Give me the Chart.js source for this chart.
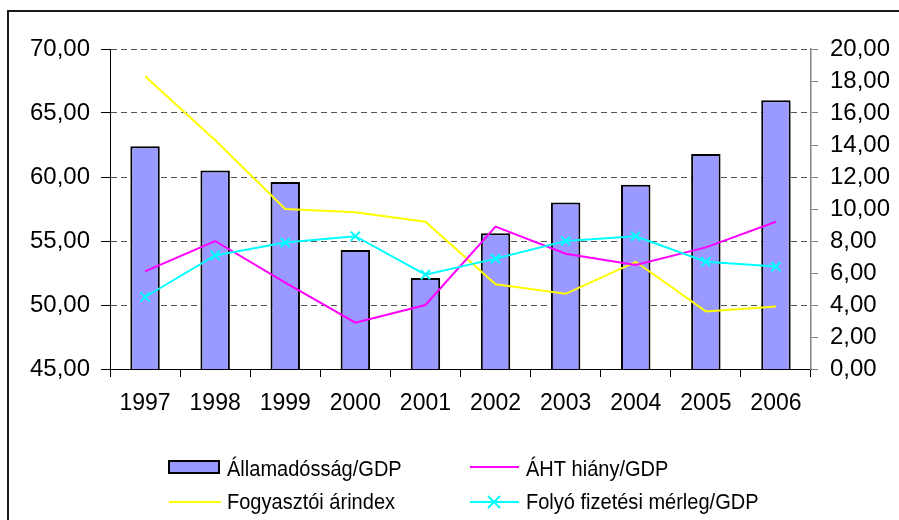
<!DOCTYPE html>
<html>
<head>
<meta charset="utf-8">
<script src="https://cdn.jsdelivr.net/npm/chart.js@4/dist/chart.umd.min.js"></script>
<style>
  html, body { margin: 0; padding: 0; background: #fff; }
  #wrap { position: relative; width: 899px; height: 520px; }
</style>
</head>
<body>
<div id="wrap"><canvas id="c" width="899" height="520"></canvas></div>
<script>
const years = ['1997', '1998', '1999', '2000', '2001', '2002', '2003', '2004', '2005', '2006'];
const debtGDP = [62.4, 60.5, 59.6, 54.3, 52.1, 55.6, 58.0, 59.4, 61.8, 66.0];
const deficitGDP = [6.1, 8.0, 5.4, 2.9, 4.0, 8.9, 7.2, 6.5, 7.6, 9.2];
const cpiIndex = [18.3, 14.3, 10.0, 9.8, 9.2, 5.3, 4.7, 6.7, 3.6, 3.9];
const currentAccountGDP = [4.5, 7.1, 7.9, 8.3, 5.9, 6.9, 8.0, 8.3, 6.7, 6.4];
const seriesNames = ['Államadósság/GDP', 'ÁHT hiány/GDP', 'Fogyasztói árindex', 'Folyó fizetési mérleg/GDP'];
const leftTicks = { min: 45, max: 70, step: 5 };
const rightTicks = { min: 0, max: 20, step: 2 };

const FONT = "'Liberation Sans', Arial, sans-serif";
const fmt = v => Number(v).toFixed(2).replace('.', ',');

const frameAndLegend = {
  id: 'frameAndLegend',
  beforeDraw(chart) {
    const ctx = chart.ctx;
    ctx.save();
    ctx.fillStyle = '#fff';
    ctx.fillRect(0, 0, chart.width, chart.height);
    ctx.strokeStyle = '#1a1a1a';
    ctx.lineWidth = 2;
    ctx.beginPath();
    ctx.moveTo(8, chart.height + 5);
    ctx.lineTo(8, 11);
    ctx.lineTo(chart.width + 5, 11);
    ctx.stroke();
    ctx.restore();
  },
  afterDraw(chart) {
    const ctx = chart.ctx;
    const ds = chart.data.datasets;
    ctx.save();
    ctx.fillStyle = ds[0].backgroundColor;
    ctx.fillRect(169, 461, 50, 12);
    ctx.strokeStyle = '#000';
    ctx.lineWidth = 2;
    ctx.strokeRect(169, 461, 50, 12);
    const line = (x1, x2, y, color) => {
      ctx.strokeStyle = color; ctx.lineWidth = 2;
      ctx.beginPath(); ctx.moveTo(x1, y); ctx.lineTo(x2, y); ctx.stroke();
    };
    line(470, 519, 467, ds[1].borderColor);
    line(169, 221, 502, ds[2].borderColor);
    line(470, 519, 502, ds[3].borderColor);
    ctx.strokeStyle = ds[3].borderColor; ctx.lineWidth = 2;
    const cx = 494, cy = 502, r = 6;
    ctx.beginPath();
    ctx.moveTo(cx - r, cy - r); ctx.lineTo(cx + r, cy + r);
    ctx.moveTo(cx + r, cy - r); ctx.lineTo(cx - r, cy + r);
    ctx.stroke();
    ctx.fillStyle = '#000';
    ctx.font = '22px ' + FONT;
    ctx.textBaseline = 'middle';
    ctx.textAlign = 'left';
    const txt = (s, x, y) => {
      const w = ctx.measureText(s).width;
      ctx.fillText(s, x, y, w * 0.91);
    };
    txt(ds[0].label, 227, 470);
    txt(ds[1].label, 526, 470);
    txt(ds[2].label, 227, 503);
    txt(ds[3].label, 526, 503);
    ctx.restore();
  }
};

new Chart(document.getElementById('c'), {
  data: {
    labels: years,
    datasets: [
      {
        type: 'bar', label: seriesNames[0], data: debtGDP, yAxisID: 'y',
        backgroundColor: '#9999FF', borderColor: '#000', borderWidth: 2,
        barPercentage: 0.42, categoryPercentage: 1, order: 5
      },
      {
        type: 'line', label: seriesNames[1], data: deficitGDP, yAxisID: 'y1',
        borderColor: '#FF00FF', backgroundColor: '#FF00FF', borderWidth: 2,
        pointRadius: 0, tension: 0, order: 1
      },
      {
        type: 'line', label: seriesNames[2], data: cpiIndex, yAxisID: 'y1',
        borderColor: '#FFFF00', backgroundColor: '#FFFF00', borderWidth: 2,
        pointRadius: 0, tension: 0, order: 2
      },
      {
        type: 'line', label: seriesNames[3], data: currentAccountGDP, yAxisID: 'y1',
        borderColor: '#00FFFF', backgroundColor: '#00FFFF', borderWidth: 2,
        pointStyle: 'crossRot', pointRadius: 6.5, pointBorderWidth: 2,
        pointBorderColor: '#00FFFF', tension: 0, order: 0
      }
    ]
  },
  options: {
    responsive: false,
    animation: false,
    layout: { padding: { top: 49, left: 0, right: 0, bottom: 0 } },
    plugins: { legend: { display: false }, tooltip: { enabled: false } },
    scales: {
      x: {
        offset: true,
        grid: { display: true, drawOnChartArea: false, offset: true, tickLength: 8, color: '#000', tickColor: '#000' },
        border: { display: true, color: '#000', width: 1 },
        ticks: { color: '#000', font: { family: FONT, size: 23 }, padding: 13, maxRotation: 0 },
        afterFit(scale) { scale.height = 151; }
      },
      y: {
        position: 'left', min: leftTicks.min, max: leftTicks.max,
        ticks: { stepSize: leftTicks.step, color: '#000', font: { family: FONT, size: 24 }, padding: 11, callback: fmt },
        grid: { color: '#555', tickColor: '#000', tickLength: 9, lineWidth: 1 },
        border: { display: true, color: '#000', width: 1, dash: [6, 4] },
        afterFit(scale) { scale.width = 110; }
      },
      y1: {
        position: 'right', min: rightTicks.min, max: rightTicks.max,
        ticks: { stepSize: rightTicks.step, color: '#000', font: { family: FONT, size: 24 }, padding: 12, callback: fmt },
        grid: { drawOnChartArea: false, color: '#808080', tickColor: '#808080', tickLength: 7 },
        border: { display: true, color: '#808080', width: 1.5 },
        afterFit(scale) { scale.width = 88; }
      }
    }
  },
  plugins: [frameAndLegend]
});
</script>
</body>
</html>
